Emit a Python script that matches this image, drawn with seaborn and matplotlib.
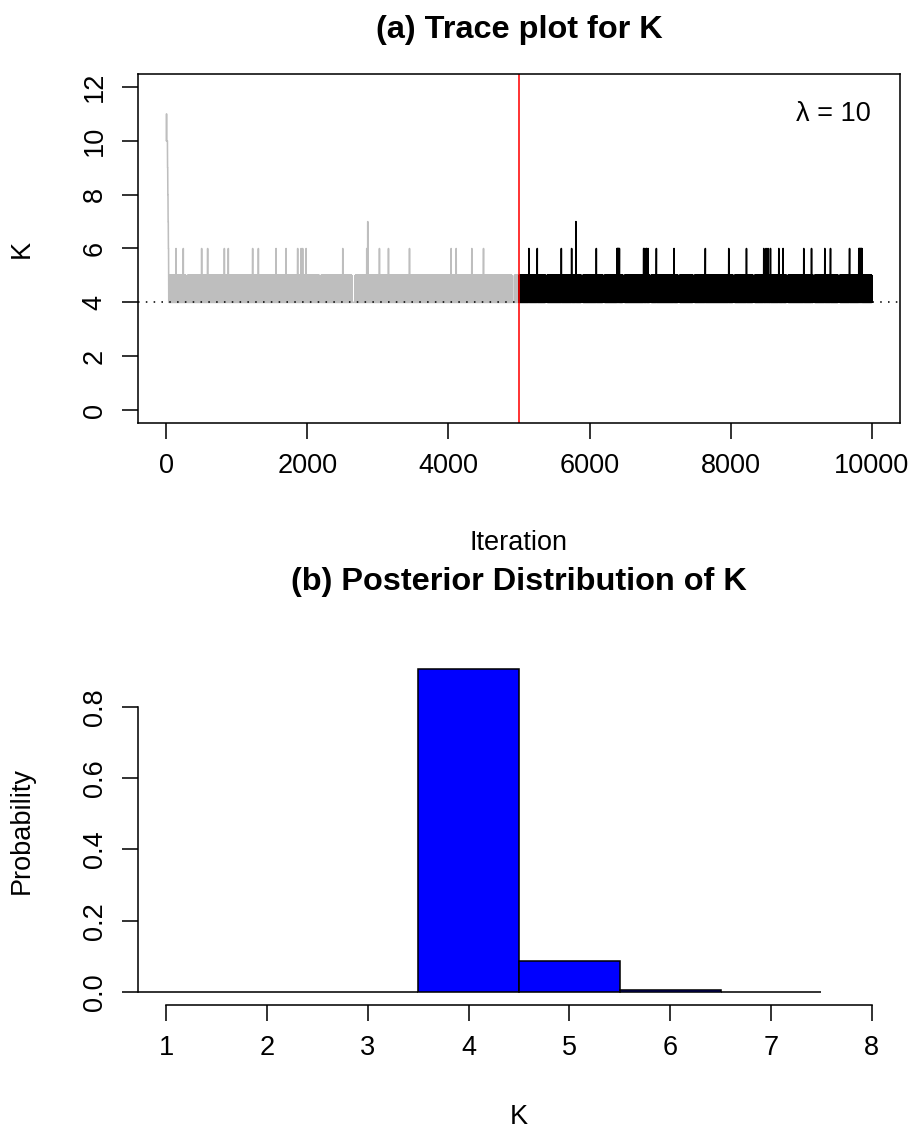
import numpy as np
import pandas as pd
import matplotlib
matplotlib.use("Agg")
import matplotlib.pyplot as plt
import seaborn as sns

# ---------------- data ----------------
n_iter = 10000
burn_in = 5000

# start of the chain (iteration, K) before it settles into the 4/5 band
init_iter = [1, 3, 6, 14, 18, 22, 26, 30, 34]
init_k = [10, 11, 10, 10, 9, 8, 7, 6, 5]
band_start = 36
band_levels = [4, 5]          # chain flips between these two values in the band

# excursions to K = 6 (iteration ranges)
spike6 = [(138, 139), (241, 242), (501, 502), (586, 587), (823, 824), (879, 880),
          (1224, 1225), (1305, 1306), (1556, 1557), (1698, 1699), (1862, 1863),
          (1911, 1912), (1933, 1934), (1982, 1983), (2501, 2502), (2841, 2842),
          (3021, 3022), (3149, 3150), (3447, 3448), (4038, 4039), (4109, 4110),
          (4330, 4331), (4496, 4497),
          (5139, 5140), (5258, 5259), (5599, 5600), (5745, 5746), (6095, 6096),
          (6387, 6388), (6394, 6395), (6401, 6402), (6408, 6409), (6415, 6416),
          (6422, 6423), (6766, 6767), (6773, 6774), (6800, 6801), (6806, 6807),
          (6827, 6828), (6946, 6947),
          (7196, 7197), (7640, 7641), (7972, 7973), (8223, 8224), (8468, 8469),
          (8501, 8502), (8529, 8530), (8563, 8564), (8681, 8682), (8742, 8743),
          (9035, 9036), (9145, 9146), (9333, 9334), (9414, 9415), (9684, 9685),
          (9815, 9816), (9824, 9825), (9833, 9834), (9842, 9843), (9851, 9852),
          (9859, 9860)]
# excursions to K = 7
spike7 = [(2855, 2856), (5806, 5807)]
# stretches where the chain stays on one level (white gaps in the band)
gaps = [(279, 302, 4), (2170, 2194, 4), (2630, 2680, 4), (4900, 4935, 4),
        (5376, 5400, 5), (5882, 5906, 5), (6189, 6213, 5), (6472, 6496, 5),
        (6851, 6875, 5), (7252, 7276, 5), (7465, 7489, 5), (8033, 8057, 5),
        (8316, 8340, 5), (8790, 8814, 5), (9167, 9191, 5), (9522, 9546, 5)]
red_line_at = 5000
ref_level = 4
lambda_text = "λ = 10"

# posterior of K
k_values = [1, 2, 3, 4, 5, 6, 7]
k_probs = [0.0, 0.0, 0.0, 0.906, 0.086, 0.006, 0.0015]

# ---------------- build the trace ----------------
it = np.arange(1, n_iter + 1)
kk = np.empty(n_iter)
idx = np.searchsorted(init_iter, it, side="right") - 1
kk[:] = np.array(init_k)[np.clip(idx, 0, len(init_k) - 1)]
band = it >= band_start
kk[band] = np.where(it[band] % 2 == 0, band_levels[0], band_levels[1])
for s, e, lev in gaps:
    kk[(it >= s) & (it <= e)] = lev
for s, e in spike6:
    kk[(it >= s) & (it <= e)] = 6
for s, e in spike7:
    kk[(it >= s) & (it <= e)] = 7
phase = np.where(it <= burn_in, "burn", "post")
trace = pd.DataFrame({"Iteration": it, "K": kk, "Phase": phase})
post = pd.DataFrame({"K": k_values, "Probability": k_probs})

# ---------------- style ----------------
sns.set_style("ticks")
plt.rcParams["font.family"] = ["Liberation Sans", "DejaVu Sans"]
for key in ["text.color", "axes.labelcolor", "xtick.color", "ytick.color",
            "axes.edgecolor"]:
    plt.rcParams[key] = "black"
FS = 13
FT = 15.6
LW = 0.75

W, H = 914, 1138
DPI = 150
fig = plt.figure(figsize=(W / DPI, H / DPI), dpi=DPI)


def place(L, T, R, B):
    return fig.add_axes([L / W, 1 - B / H, (R - L) / W, (B - T) / H])


def r_axes(ax, L, T, R, B, title, title_y, xlab, xlab_y, ylab, ylab_x):
    ax.tick_params(direction="out", length=7.5, width=LW, color="black",
                   labelcolor="black", labelsize=FS, pad=7)
    for lab in ax.get_yticklabels():
        lab.set_rotation(90)
        lab.set_va("center")
    ax.set_title(title, fontsize=FT, fontweight="bold", color="black",
                 y=(B - title_y) / (B - T), va="center", pad=0)
    ax.set_xlabel(xlab, fontsize=FS, va="center", color="black")
    ax.xaxis.set_label_coords(0.5, (B - xlab_y) / (B - T))
    ax.set_ylabel(ylab, fontsize=FS, va="center", color="black")
    ax.yaxis.set_label_coords((ylab_x - L) / (R - L), 0.5)


# ---------------- (a) trace plot ----------------
L1, T1, R1, B1 = 138, 74, 900, 423
ax1 = place(L1, T1, R1, B1)
sns.lineplot(data=trace, x="Iteration", y="K", hue="Phase",
             palette={"burn": "#BEBEBE", "post": "black"}, estimator=None,
             sort=False, legend=False, linewidth=LW, ax=ax1)
ax1.axvline(red_line_at, color="red", lw=LW)
ax1.axhline(ref_level, color="black", lw=LW, ls=(0, (1, 4)))
ax1.text(9460, 11.0, lambda_text, ha="center", va="center", fontsize=FS)
ax1.set_xlim(-400, 10400)
ax1.set_ylim(-0.48, 12.48)
ax1.set_xticks([0, 2000, 4000, 6000, 8000, 10000])
ax1.set_xticklabels(["0", "2000", "4000", "6000", "8000", "10000"])
ax1.set_yticks([0, 2, 4, 6, 8, 10, 12])
ax1.set_yticklabels(["0", "2", "4", "6", "8", "10", "12"])
for sp in ax1.spines.values():
    sp.set_visible(True)
    sp.set_linewidth(LW)
    sp.set_color("black")
r_axes(ax1, L1, T1, R1, B1, "(a) Trace plot for K", 30, "Iteration", 543, "K", 22)

# ---------------- (b) posterior ----------------
L2, T2, R2, B2 = 138, 656, 900, 1005
ax2 = place(L2, T2, R2, B2)
sns.barplot(data=post, x="K", y="Probability", native_scale=True, width=1,
            color="#0000FF", saturation=1, edgecolor="black", linewidth=LW,
            errorbar=None, ax=ax2)
ax2.set_xlim(0.72, 8.28)
ax2.set_ylim(-0.0362, 0.9422)
ax2.set_xticks([1, 2, 3, 4, 5, 6, 7, 8])
ax2.set_xticklabels(["1", "2", "3", "4", "5", "6", "7", "8"])
ax2.set_yticks([0.0, 0.2, 0.4, 0.6, 0.8])
ax2.set_yticklabels(["0.0", "0.2", "0.4", "0.6", "0.8"])
for side in ["top", "right"]:
    ax2.spines[side].set_visible(False)
ax2.spines["left"].set_bounds(0.0, 0.8)
ax2.spines["bottom"].set_bounds(1, 8)
for side in ["left", "bottom"]:
    ax2.spines[side].set_linewidth(LW)
    ax2.spines[side].set_color("black")
r_axes(ax2, L2, T2, R2, B2, "(b) Posterior Distribution of K", 582, "K", 1117,
       "Probability", 22)

fig.savefig("out.png", dpi=DPI, facecolor="white")
